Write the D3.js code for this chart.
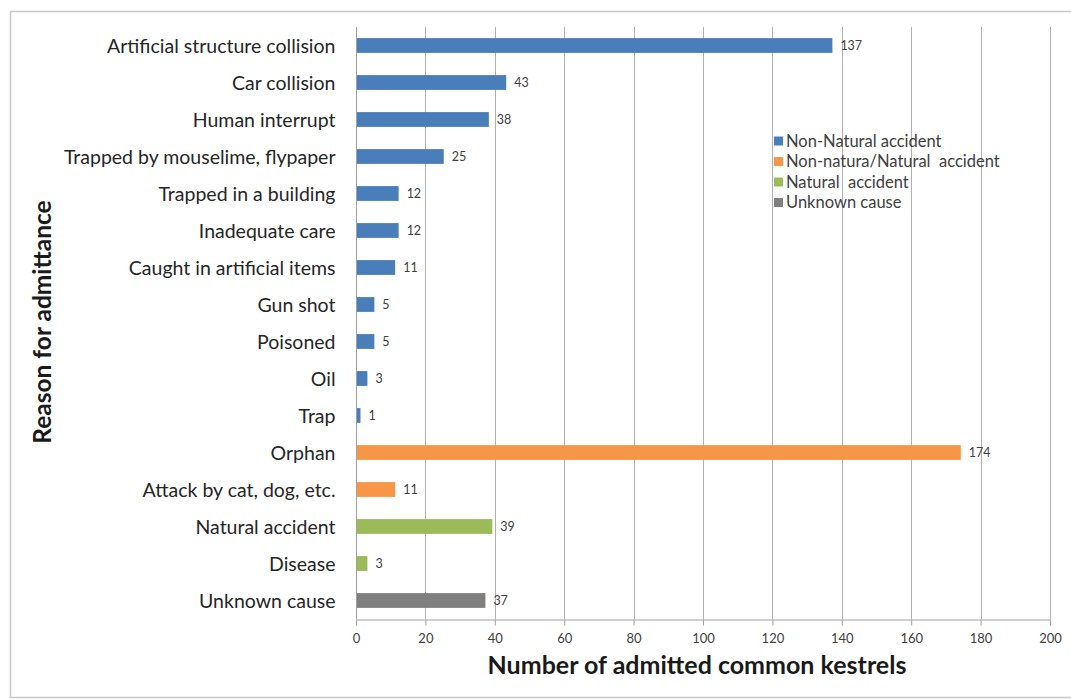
<!DOCTYPE html>
<html>
<head>
<meta charset="utf-8">
<script src="https://cdn.jsdelivr.net/npm/d3@7"></script>
<style>
  html, body { margin: 0; padding: 0; background: #ffffff; }
  svg { display: block; }
  text { font-family: Lato, "Open Sans", sans-serif; }
</style>
</head>
<body>
<svg id="chart" width="1071" height="699"></svg>
<script>
// Reasons for admittance of common kestrels, top to bottom
const categories = [
  "Artificial structure collision",
  "Car collision",
  "Human interrupt",
  "Trapped by mouselime, flypaper",
  "Trapped in a building",
  "Inadequate care",
  "Caught in artificial items",
  "Gun shot",
  "Poisoned",
  "Oil",
  "Trap",
  "Orphan",
  "Attack by cat, dog, etc.",
  "Natural accident",
  "Disease",
  "Unknown cause"
];
const counts = [137, 43, 38, 25, 12, 12, 11, 5, 5, 3, 1, 174, 11, 39, 3, 37];
const groups = [0, 0, 0, 0, 0, 0, 0, 0, 0, 0, 0, 1, 1, 2, 2, 3];

const groupNames = [
  "Non-Natural accident",
  "Non-natura/Natural  accident",
  "Natural  accident",
  "Unknown cause"
];
const groupColors = ["#4a7ebb", "#f79646", "#9bbb59", "#7f7f7f"];

const xTicks = [0, 20, 40, 60, 80, 100, 120, 140, 160, 180, 200];

const svg = d3.select("#chart");

// outer frame
svg.append("path")
  .attr("d", "M1080,11.5H10.5V697.5H1080")
  .attr("fill", "none")
  .attr("stroke", "#c8c8c8")
  .attr("stroke-width", 1.5);

const plot = { left: 356, right: 1050, top: 27, bottom: 619 };

const x = d3.scaleLinear().domain([0, 200]).range([plot.left, plot.right]);
const y = d3.scaleBand().domain(categories).range([plot.top, plot.bottom]).paddingInner(0.6).paddingOuter(0.3);

// vertical gridlines
svg.append("g")
  .selectAll("line")
  .data(xTicks.slice(1))
  .join("line")
  .attr("x1", d => Math.round(x(d)) + 0.5)
  .attr("x2", d => Math.round(x(d)) + 0.5)
  .attr("y1", plot.top)
  .attr("y2", plot.bottom)
  .attr("stroke", "#b0b0b0")
  .attr("stroke-width", 1);

// x axis
const xAxis = d3.axisBottom(x).tickValues(xTicks).tickSize(6).tickPadding(8);
const gx = svg.append("g")
  .attr("transform", `translate(0,${plot.bottom + 0.5})`)
  .call(xAxis);
gx.select(".domain").attr("stroke", "#a0a0a0");
gx.selectAll(".tick line").attr("stroke", "#a0a0a0");
gx.selectAll(".tick text")
  .attr("fill", "#404040")
  .style("font-size", "13px")
  .style("font-family", "Lato, sans-serif");

// y axis
const yAxis = d3.axisLeft(y).tickSize(0).tickPadding(21);
const gy = svg.append("g")
  .attr("transform", `translate(${plot.left + 0.5},0)`)
  .call(yAxis);
gy.select(".domain").attr("stroke", "#a0a0a0").attr("d", `M0,${plot.top}V${plot.bottom}`);
gy.selectAll(".tick text")
  .attr("fill", "#262626")
  .attr("dy", "0.38em")
  .style("font-size", "19.5px")
  .style("font-family", "Lato, sans-serif");

// bars
const rows = categories.map((c, i) => ({ cat: c, v: counts[i], g: groups[i] }));
svg.append("g")
  .selectAll("rect")
  .data(rows)
  .join("rect")
  .attr("x", x(0) + 1)
  .attr("y", d => y(d.cat))
  .attr("width", d => x(d.v) - x(0))
  .attr("height", y.bandwidth())
  .attr("fill", d => groupColors[d.g]);

// value labels
svg.append("g")
  .selectAll("text")
  .data(rows)
  .join("text")
  .attr("x", d => x(d.v) + 9)
  .attr("y", d => y(d.cat) + y.bandwidth() / 2)
  .attr("dy", "0.35em")
  .attr("fill", "#404040")
  .style("font-size", "12.5px")
  .text(d => d.v);

// axis titles
svg.append("text")
  .attr("x", 697)
  .attr("y", 674)
  .attr("text-anchor", "middle")
  .attr("fill", "#1a1a1a")
  .style("font-size", "25px")
  .style("font-weight", "bold")
  .text("Number of admitted common kestrels");

svg.append("text")
  .attr("transform", "translate(51,322) rotate(-90)")
  .attr("text-anchor", "middle")
  .attr("fill", "#1a1a1a")
  .style("font-size", "24.5px")
  .style("font-weight", "bold")
  .text("Reason for admittance");

// legend
const legend = svg.append("g").attr("transform", "translate(774,141)");
const item = legend.selectAll("g")
  .data(groupNames)
  .join("g")
  .attr("transform", (d, i) => `translate(0,${i * 20.5})`);
item.append("rect")
  .attr("x", 0).attr("y", -4.5)
  .attr("width", 9).attr("height", 9)
  .attr("fill", (d, i) => groupColors[i]);
item.append("text")
  .attr("x", 12)
  .attr("dy", "0.35em")
  .attr("fill", "#404040")
  .style("font-size", "16.5px")
  .style("white-space", "pre")
  .text(d => d);
</script>
</body>
</html>
